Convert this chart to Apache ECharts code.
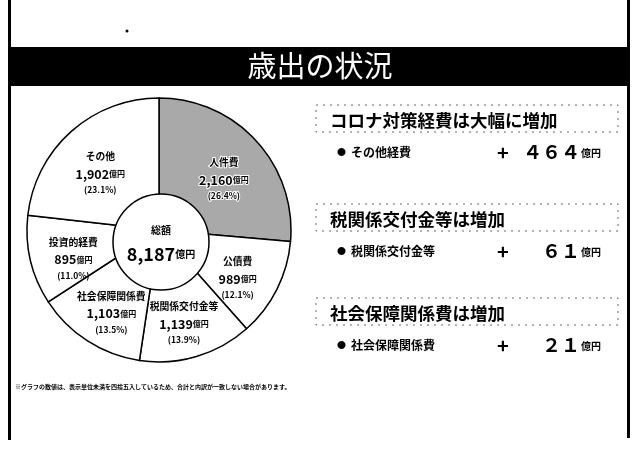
<!DOCTYPE html>
<html>
<head>
<meta charset="utf-8">
<script src="https://cdn.jsdelivr.net/npm/echarts@6/dist/echarts.min.js"></script>
<style>
  html, body { margin: 0; padding: 0; background: #fff; }
  #chart { width: 637px; height: 450px; }
</style>
</head>
<body>
<div id="chart"></div>
<script>
// 歳出の内訳（億円）
const categories = ['人件費', '公債費', '税関係交付金等', '社会保障関係費', '投資的経費', 'その他'];
const amounts = [2160, 989, 1139, 1103, 895, 1902];
const shares = ['26.4', '12.1', '13.9', '13.5', '11.0', '23.1'];
const totalAmount = 8187;

// 右側の増減
const headlines = ['コロナ対策経費は大幅に増加', '税関係交付金等は増加', '社会保障関係費は増加'];
const itemNames = ['その他経費', '税関係交付金等', '社会保障関係費'];
const increases = [464, 61, 21];

const FONT = '"Noto Sans CJK JP", "Noto Sans", sans-serif';
const fmt = n => n.toLocaleString('en-US');
const wide = n => String(n).replace(/[0-9]/g, d => String.fromCharCode(d.charCodeAt(0) + 0xFEE0));

const chart = echarts.init(document.getElementById('chart'), null, { renderer: 'canvas' });

const pieData = categories.map((name, i) => ({
	name,
	value: amounts[i],
	itemStyle: { color: i === 0 ? '#a9a9a9' : '#ffffff' },
}));

const labelData = categories.map((name, i) => ({
	name,
	value: amounts[i],
	label: i === 0 ? { textBorderColor: '#fff', textBorderWidth: 2 } : {},
}));

const CENTER = [159, 230];
const R = 132;

// 右側の枠・文字
const boxTops = [105, 204, 298];
const rightGraphics = [];
headlines.forEach((t, i) => {
	const top = boxTops[i];
	rightGraphics.push({
		type: 'rect',
		shape: { x: 316, y: top, width: 302, height: 27 },
		style: { fill: 'none', stroke: '#666', lineWidth: 1, lineDash: [2, 5] },
	});
	rightGraphics.push({
		type: 'text',
		x: 330, y: top + 15,
		style: { text: t, font: `bold 17.5px ${FONT}`, fill: '#000', textVerticalAlign: 'middle' },
	});
	const y = top + 47;
	rightGraphics.push({
		type: 'text',
		x: 337, y,
		style: { text: '●', font: `9px ${FONT}`, fill: '#000', textVerticalAlign: 'middle' },
	});
	rightGraphics.push({
		type: 'text',
		x: 351, y,
		style: { text: itemNames[i], font: `bold 12px ${FONT}`, fill: '#000', textVerticalAlign: 'middle' },
	});
	rightGraphics.push({
		type: 'text',
		x: 503, y,
		style: { text: '+', font: `bold 20px ${FONT}`, fill: '#000', textAlign: 'center', textVerticalAlign: 'middle' },
	});
	rightGraphics.push({
		type: 'text',
		x: 580, y,
		style: { text: wide(increases[i]), font: `bold 19px ${FONT}`, fill: '#000', textAlign: 'right', textVerticalAlign: 'middle' },
	});
	rightGraphics.push({
		type: 'text',
		x: 581, y: y + 1,
		style: { text: '億円', font: `bold 10px ${FONT}`, fill: '#000', textVerticalAlign: 'middle' },
	});
});

const option = {
	backgroundColor: '#ffffff',
	animation: false,
	textStyle: { fontFamily: FONT },
	graphic: [
		// 枠線
		{ type: 'rect', shape: { x: 8, y: 0, width: 3, height: 440 }, style: { fill: '#000' } },
		{ type: 'rect', shape: { x: 627, y: 0, width: 3, height: 438 }, style: { fill: '#000' } },
		// タイトル帯
		{ type: 'rect', shape: { x: 11, y: 47, width: 616, height: 39 }, style: { fill: '#000' } },
		{
			type: 'text', x: 320, y: 66,
			style: { text: '歳出の状況', font: `29px ${FONT}`, fill: '#fff', textAlign: 'center', textVerticalAlign: 'middle' },
		},
		{ type: 'circle', shape: { cx: 127, cy: 31, r: 1.5 }, style: { fill: '#000' } },
		// 注記
		{
			type: 'text', x: 15, y: 387,
			style: {
				text: '※グラフの数値は、表示単位未満を四捨五入しているため、合計と内訳が一致しない場合があります。',
				font: `bold 6px ${FONT}`, fill: '#000', textVerticalAlign: 'middle',
			},
		},
		...rightGraphics,
	],
	series: [
		{
			type: 'pie',
			center: CENTER,
			radius: [0, R],
			startAngle: 90,
			clockwise: true,
			silent: true,
			label: { show: false },
			labelLine: { show: false },
			itemStyle: { borderColor: '#000', borderWidth: 1.5 },
			data: pieData,
			z: 1,
		},
		{
			type: 'pie',
			center: [159, 238],
			radius: [44, 126],
			startAngle: 90,
			clockwise: true,
			silent: true,
			avoidLabelOverlap: false,
			itemStyle: { color: 'rgba(0,0,0,0)', borderWidth: 0 },
			labelLine: { show: false },
			label: {
				show: true,
				position: 'inside',
				color: '#000',
				formatter: p => {
					const i = p.dataIndex;
					return `{n|${categories[i]}}\n{v|${fmt(amounts[i])}}{u|億円}\n{p|(${shares[i]}%)}`;
				},
				rich: {
					n: { fontSize: 9.8, fontWeight: 'bold', color: '#000', lineHeight: 17, fontFamily: FONT },
					v: { fontSize: 12.5, fontWeight: 'bold', color: '#000', lineHeight: 18, fontFamily: FONT },
					u: { fontSize: 8, fontWeight: 'bold', color: '#000', lineHeight: 18, fontFamily: FONT },
					p: { fontSize: 8.5, fontWeight: 'bold', color: '#000', lineHeight: 14, fontFamily: FONT },
				},
			},
			data: labelData,
			z: 2,
		},
		{
			type: 'pie',
			center: [161, 242],
			radius: [0, 48],
			silent: true,
			itemStyle: { color: '#fff', borderColor: '#000', borderWidth: 1.5 },
			labelLine: { show: false },
			label: {
				show: true,
				position: 'center',
				formatter: `{a|総額}\n{b|${fmt(totalAmount)}}{c|億円}`,
				rich: {
					a: { fontSize: 10, fontWeight: 'bold', color: '#000', lineHeight: 24, fontFamily: FONT },
					b: { fontSize: 18, fontWeight: 'bold', color: '#000', lineHeight: 24, fontFamily: FONT },
					c: { fontSize: 10, fontWeight: 'bold', color: '#000', lineHeight: 24, fontFamily: FONT },
				},
			},
			data: [{ name: '総額', value: totalAmount }],
			z: 3,
		},
	],
};

chart.setOption(option);
</script>
</body>
</html>
